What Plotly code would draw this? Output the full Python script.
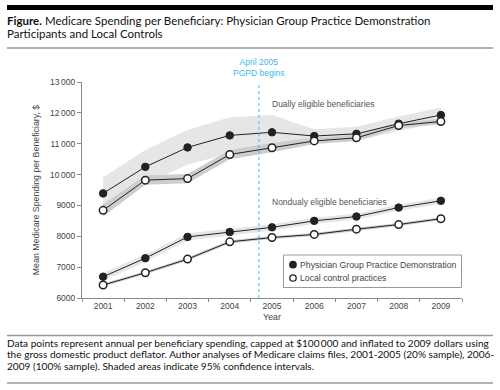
import plotly.graph_objects as go

# ---------------- data ----------------
years = [2001, 2002, 2003, 2004, 2005, 2006, 2007, 2008, 2009]

dual_pgpd = [9390, 10250, 10880, 11270, 11370, 11250, 11320, 11650, 11930]
dual_pgpd_lo = [8880, 9700, 10320, 10690, 10810, 11030, 11090, 11420, 11690]
dual_pgpd_hi = [9910, 10800, 11450, 11860, 11930, 11470, 11550, 11880, 12170]

dual_ctrl = [8840, 9820, 9870, 10650, 10870, 11090, 11190, 11590, 11720]
dual_ctrl_lo = [8640, 9670, 9720, 10500, 10720, 10990, 11090, 11500, 11630]
dual_ctrl_hi = [9040, 9970, 10020, 10800, 11020, 11190, 11290, 11680, 11810]

nond_pgpd = [6690, 7290, 7980, 8140, 8290, 8500, 8640, 8930, 9150]
nond_pgpd_lo = [6560, 7170, 7860, 8030, 8190, 8400, 8540, 8830, 9050]
nond_pgpd_hi = [6820, 7410, 8100, 8250, 8390, 8600, 8740, 9030, 9250]

nond_ctrl = [6420, 6820, 7260, 7820, 7960, 8060, 8230, 8380, 8570]
nond_ctrl_lo = [6370, 6770, 7210, 7770, 7910, 8010, 8180, 8330, 8520]
nond_ctrl_hi = [6470, 6870, 7310, 7870, 8010, 8110, 8280, 8430, 8620]

y_tickvals = [6000, 7000, 8000, 9000, 10000, 11000, 12000, 13000]
y_ticktext = ["6000", "7000", "8000", "9000", "10\u2009000", "11\u2009000", "12\u2009000", "13\u2009000"]
pgpd_start = 2004.69

series_names = ["Physician Group Practice Demonstration", "Local control practices"]
title_lines = [
    "<b>Figure.</b> Medicare Spending per Beneficiary: Physician Group Practice Demonstration",
    "Participants and Local Controls",
]
footer_lines = [
    "Data points represent annual per beneficiary spending, capped at $100\u2009000 and inflated to 2009 dollars using",
    "the gross domestic product deflator. Author analyses of Medicare claims files, 2001-2005 (20% sample), 2006-",
    "2009 (100% sample). Shaded areas indicate 95% confidence intervals.",
]

# ---------------- layout helpers ----------------
W, H = 500, 390
ML, MR, MT, MB = 82, 38, 82, 92
PW, PH = W - ML - MR, H - MT - MB


def px(x):
    return (x - ML) / PW


def py(y):
    return (H - MB - y) / PH


fig = go.Figure()

BAND_LIGHT = "#e6e6e6"
BAND_DARK = "#cdcdcd"
LINE_C = "#222222"


def band(lo, hi, color):
    fig.add_trace(go.Scatter(
        x=years + years[::-1], y=hi + lo[::-1], fill="toself", fillcolor=color,
        line=dict(width=0), mode="lines", hoverinfo="skip", showlegend=False))


band(dual_pgpd_lo, dual_pgpd_hi, BAND_LIGHT)
band(dual_ctrl_lo, dual_ctrl_hi, BAND_DARK)
band(nond_pgpd_lo, nond_pgpd_hi, BAND_LIGHT)
band(nond_ctrl_lo, nond_ctrl_hi, BAND_DARK)


def series(vals, filled):
    fig.add_trace(go.Scatter(
        x=years, y=vals, mode="lines+markers",
        line=dict(color=LINE_C, width=1),
        marker=dict(size=7.5,
                    color=LINE_C if filled else "white",
                    line=dict(color=LINE_C, width=1 if filled else 1.5)),
        showlegend=False))


series(dual_pgpd, True)
series(dual_ctrl, False)
series(nond_pgpd, True)
series(nond_ctrl, False)

AX = "#8a8a8a"
FAM = "Liberation Sans, Arial, sans-serif"
TICKF = dict(family=FAM, size=8.5, color="#444")

fig.update_layout(
    width=W, height=H,
    margin=dict(l=ML, r=MR, t=MT, b=MB),
    paper_bgcolor="white", plot_bgcolor="white",
    xaxis=dict(range=[2000.5, 2009.5], tickvals=years, ticktext=[str(y) for y in years],
               ticks="", showgrid=False, zeroline=False, showline=True, linecolor=AX,
               linewidth=1, tickfont=TICKF, automargin=False,
               minor=dict(ticks="outside", tick0=2000.5, dtick=1, ticklen=3,
                          tickcolor=AX, showgrid=False),
               title=dict(text="Year", font=dict(family=FAM, size=8.8, color="#444"), standoff=3)),
    yaxis=dict(range=[6000, 13000], tickvals=y_tickvals, ticktext=y_ticktext,
               ticks="outside", ticklen=4, tickcolor=AX, showgrid=False, zeroline=False,
               showline=True, linecolor=AX, linewidth=1, tickfont=TICKF, automargin=False,
               title=dict(text="Mean Medicare Spending per Beneficiary, $",
                          font=dict(family=FAM, size=8.8, color="#444"), standoff=8)),
    showlegend=False,
)

# vertical PGPD start line
fig.add_shape(type="line", xref="x", yref="y", x0=pgpd_start, x1=pgpd_start,
              y0=6000, y1=13000, line=dict(color="#3db8ea", width=1, dash="dot"))
fig.add_annotation(xref="x", yref="paper", x=pgpd_start, y=py(67), text="April 2005<br>PGPD begins",
                   showarrow=False, font=dict(family=FAM, size=8.5, color="#3db8ea"), yanchor="middle")

# group labels
LBL = dict(family=FAM, size=8.5, color="#555")
fig.add_annotation(xref="paper", yref="paper", x=px(270), y=py(104), text="Dually eligible beneficiaries",
                   showarrow=False, font=LBL, xanchor="left", yanchor="middle")
fig.add_annotation(xref="paper", yref="paper", x=px(270), y=py(202), text="Nondualy eligible beneficiaries",
                   showarrow=False, font=LBL, xanchor="left", yanchor="middle")

# manual legend
fig.add_shape(type="rect", xref="paper", yref="paper", x0=px(283.5), x1=px(461.5), y0=py(255), y1=py(287.5),
              line=dict(color="#999", width=1), fillcolor="white")
for i, (nm, filled) in enumerate(zip(series_names, [True, False])):
    cy = 264.7 + i * 13.3
    cx = 293
    fig.add_shape(type="circle", xref="paper", yref="paper",
                  x0=px(cx - 3.2), x1=px(cx + 3.2), y0=py(cy + 3.2), y1=py(cy - 3.2),
                  fillcolor=LINE_C if filled else "white", line=dict(color=LINE_C, width=1.3))
    fig.add_annotation(xref="paper", yref="paper", x=px(298), y=py(cy), text=nm, showarrow=False,
                       font=dict(family=FAM, size=8.7, color="#444"),
                       xanchor="left", yanchor="middle")

# title block
fig.add_shape(type="rect", xref="paper", yref="paper", x0=px(7), x1=px(493), y0=py(5), y1=py(10),
              fillcolor="black", line=dict(width=0))
for i, t in enumerate(title_lines):
    fig.add_annotation(xref="paper", yref="paper", x=px(6), y=py(20 + i * 13.8), text=t,
                       showarrow=False, xanchor="left", yanchor="middle", borderpad=0,
                       font=dict(family="Lato, sans-serif", size=11.5, color="#111"))
fig.add_shape(type="line", xref="paper", yref="paper", x0=px(7), x1=px(493), y0=py(48), y1=py(48),
              line=dict(color="#999", width=1.5))

# footer
fig.add_shape(type="line", xref="paper", yref="paper", x0=px(7), x1=px(493), y0=py(335.5), y1=py(335.5),
              line=dict(color="#999", width=1.5))
for i, t in enumerate(footer_lines):
    fig.add_annotation(xref="paper", yref="paper", x=px(6), y=py(342.7 + i * 11.5), text=t,
                       showarrow=False, xanchor="left", yanchor="middle", borderpad=0,
                       font=dict(family="Lato, sans-serif", size=10.1, color="#111"))
fig.add_shape(type="line", xref="paper", yref="paper", x0=px(7), x1=px(493), y0=py(383), y1=py(383),
              line=dict(color="#999", width=1.5))

fig.write_html("out.html", config={"displayModeBar": False},
               post_script="document.body.style.margin='0';document.body.style.overflow='hidden';")
